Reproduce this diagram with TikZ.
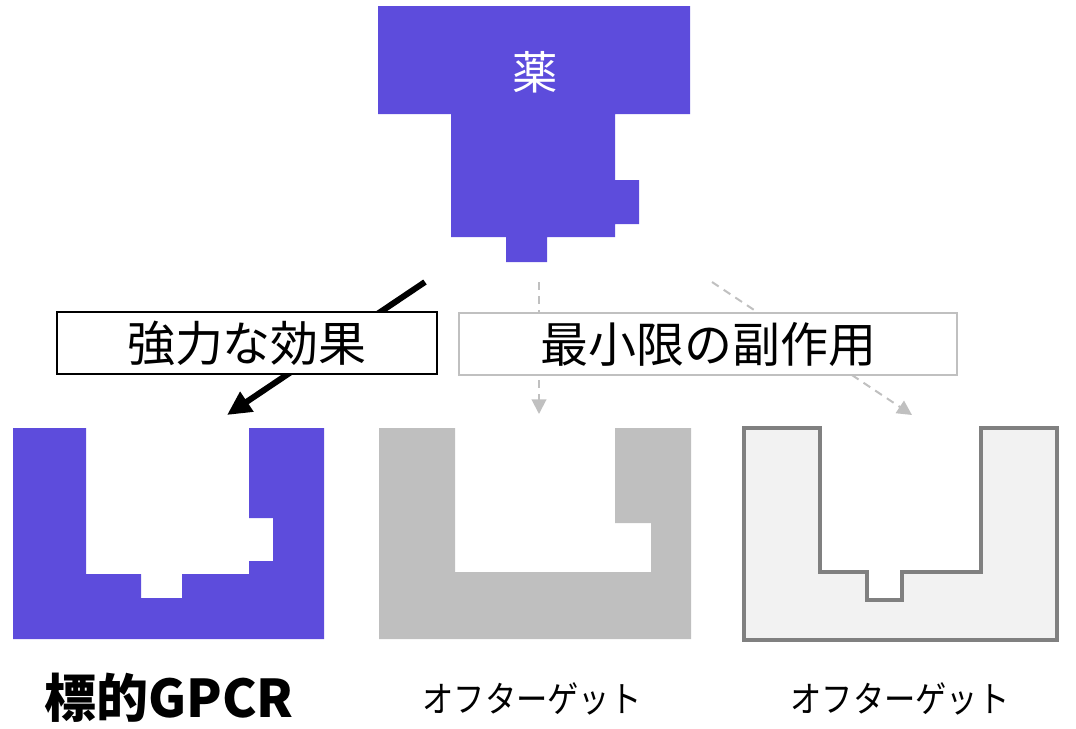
\documentclass[tikz,border=0pt]{standalone}
\usepackage{fontspec}
\newfontfamily\jp{Noto Sans CJK JP}
\usetikzlibrary{arrows.meta}
\definecolor{drugpurple}{HTML}{5D4CDC}
\definecolor{offgray}{HTML}{BFBFBF}
\definecolor{lightfill}{HTML}{F2F2F2}
\definecolor{darkedge}{HTML}{808080}
\definecolor{boxgray}{HTML}{C0C0C0}
\tikzset{
  labelbox/.style={draw, fill=white, minimum height=46.5pt, inner sep=0pt, font=\jp\fontsize{36}{36}\selectfont},
  strongarrow/.style={line width=4.5pt, -{Triangle[length=18pt,width=17pt]}},
  weakarrow/.style={draw=boxgray, line width=1.5pt, dash pattern=on 6pt off 4.5pt, -{Triangle[length=11pt,width=11pt]}},
  caption/.style={inner sep=0pt, font=\jp\fontsize{27}{27}\selectfont, xscale=0.87}
}
\begin{document}
\begin{tikzpicture}[x=0.75pt,y=-0.75pt]
\useasboundingbox (0,0) rectangle (1076,729);
% drug
\fill[drugpurple] (378,6) -- (690,6) -- (690,114) -- (615,114) -- (615,180) -- (639,180) -- (639,224) -- (615,224) -- (615,237) -- (547,237) -- (547,262) -- (506,262) -- (506,237) -- (451,237) -- (451,114) -- (378,114) -- cycle;
\node[text=white, inner sep=0pt, font=\jp\fontsize{34}{34}\selectfont] (drug) at (535,72) {薬};
% target GPCR
\fill[drugpurple] (13,428) -- (86,428) -- (86,574) -- (141,574) -- (141,598) -- (182,598) -- (182,574) -- (249,574) -- (249,561) -- (273,561) -- (273,518) -- (249,518) -- (249,428) -- (324,428) -- (324,639) -- (13,639) -- cycle;
% off target 1
\fill[offgray] (379,428) -- (455,428) -- (455,572) -- (651,572) -- (651,523) -- (615,523) -- (615,428) -- (691,428) -- (691,639) -- (379,639) -- cycle;
% off target 2
\filldraw[fill=lightfill, draw=darkedge, line width=2.3pt] (744,428) -- (820,428) -- (820,572) -- (867,572) -- (867,600) -- (902,600) -- (902,572) -- (981,572) -- (981,428) -- (1057,428) -- (1057,640) -- (744,640) -- cycle;
% arrow endpoints
\coordinate (s1) at (425,282);
\coordinate (e1) at (227,415);
\coordinate (s2) at (539,282);
\coordinate (e2) at (539,414);
\coordinate (s3) at (712,282);
\coordinate (e3) at (912,415);
\draw[strongarrow] (s1) -- (e1);
\draw[weakarrow] (s2) -- (e2);
\draw[weakarrow] (s3) -- (e3);
% label boxes
\node[labelbox, draw=black, line width=1.6pt, minimum width=285pt] (effect) at (247,343) {強力な効果};
\node[labelbox, draw=boxgray, line width=2.2pt, minimum width=373.5pt] (side) at (708,344) {最小限の副作用};
% captions
\node[inner sep=0pt, font=\jp\bfseries\fontsize{39}{39}\selectfont] (gpcr) at (169,698) {標的GPCR};
\node[caption] (off1) at (532,699) {オフターゲット};
\node[caption] (off2) at (900,699) {オフターゲット};
\end{tikzpicture}
\end{document}
